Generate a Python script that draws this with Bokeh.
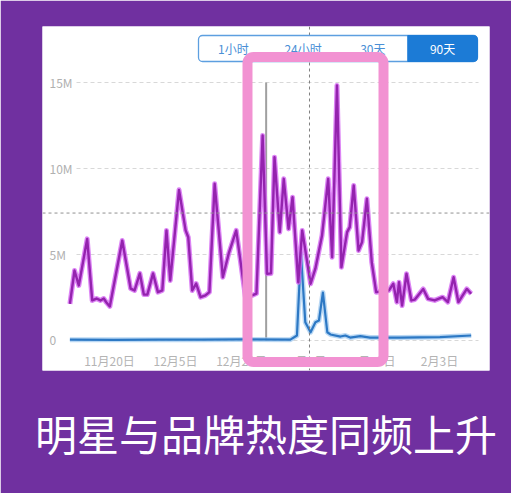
from bokeh.plotting import figure
from bokeh.models import Range1d, Span, BoxAnnotation, Label, Title
from bokeh.core.properties import value
from bokeh.embed import file_html
from bokeh.resources import INLINE

# ---------------- data (days since 11月11日, values in millions) ----------------
purple_day = [0, 1.05, 2.02, 3.93, 5.07, 6.05, 6.95, 7.7, 8.3, 9.07, 11.9, 13.8, 14.7, 15.9,
              16.8, 17.6, 18.9, 20.0, 21.0, 21.95, 22.8, 24.8, 26.3, 26.9, 27.8, 28.7, 29.7,
              30.8, 31.7, 32.9, 34.75, 36.1, 37.8, 39.9, 41.4, 42.4, 43.8, 44.8, 45.7, 46.5,
              47.7, 48.6, 49.7, 50.6, 51.9, 52.8, 54.7, 55.8, 57.3, 58.7, 59.6, 60.7, 61.7,
              63.0, 63.6, 64.5, 65.6, 66.4, 67.5, 68.6, 69.6, 72.5, 73.5, 74.3, 74.8, 75.5,
              76.5, 77.6, 78.4, 80.3, 81.4, 82.9, 84.7, 85.9, 87.2, 88.3, 90.2, 91.2]
purple_val = [2.13, 4.07, 3.2, 5.91, 2.33, 2.44, 2.33, 2.44, 2.21, 1.98, 5.81, 3.02, 2.91, 3.9,
              2.67, 2.67, 3.9, 2.81, 2.91, 6.4, 3.49, 8.76, 6.4, 6.0, 2.91, 3.31, 2.52,
              2.62, 2.81, 9.11, 3.68, 5.06, 6.4, 2.5, 2.62, 2.73, 11.92, 3.88, 3.9, 10.66,
              6.3, 9.4, 6.49, 8.33, 3.39, 6.4, 3.3, 4.19, 6.1, 9.4, 4.84, 14.83, 4.26,
              6.3, 6.59, 9.01, 5.23, 5.72, 8.24, 4.55, 2.81, 2.91, 3.3, 2.23, 3.39, 2.03,
              3.88, 2.33, 2.38, 3.0, 2.42, 2.33, 2.52, 2.23, 3.68, 2.23, 3.0, 2.72]

blue_day = [0, 10, 20, 30, 40, 50.1, 51.6, 52.5, 53.5, 54.7, 55.8, 56.6, 57.5, 58.5, 59.2,
            61.5, 62.6, 63.7, 66.0, 68.2, 75.0, 84.1, 91.2]
blue_val = [0.05, 0.04, 0.05, 0.05, 0.06, 0.05, 0.29, 5.06, 1.06, 0.48, 1.06, 1.16, 2.79, 0.48,
            0.35, 0.23, 0.29, 0.17, 0.25, 0.17, 0.17, 0.2, 0.29]

y_ticks = [0, 5, 10, 15]
y_tick_labels = ["0", "5M", "10M", "15M"]
x_ticks = [9, 24, 39, 54, 69, 84]
x_tick_labels = ["11月20日", "12月5日", "12月20日", "1月4日", "1月19日", "2月3日"]

buttons = ["1小时", "24小时", "30天", "90天"]
selected_button = "90天"

marker_day = 44.6          # grey vertical marker
marker_top = 15
cross_day = 54.45          # hover crosshair
cross_val = 7.41

caption = "明星与品牌热度同频上升"

PURPLE_BG = "#7030a0"
FONT = "Noto Sans CJK SC"

# ---------------- figure ----------------
X0, X1 = -6.227, 95.36
Y0, Y1 = -1.744, 18.256
FW, FH = 447, 344

def dx(px):   # panel pixel -> day
    return X0 + (px - 42) * (X1 - X0) / FW

def dy(py):   # panel pixel -> value
    return Y1 - (py - 26) * (Y1 - Y0) / FH

p = figure(width=511, height=493, output_backend="svg", toolbar_location=None,
           x_range=Range1d(X0, X1), y_range=Range1d(Y0, Y1),
           x_axis_location=None, y_axis_location=None,
           min_border_left=42, min_border_right=22, min_border_top=26, min_border_bottom=123)
p.background_fill_color = "white"
p.border_fill_color = PURPLE_BG
p.outline_line_color = None
p.grid.visible = False

# grid lines
p.segment(x0=[dx(76)] * len(y_ticks), x1=[dx(478)] * len(y_ticks), y0=y_ticks, y1=y_ticks,
          line_color="#d8d8d8", line_width=1, line_dash="4 3")

# y tick labels
p.text(x=[dx(49)] * len(y_ticks), y=y_ticks, text=y_tick_labels, text_align="left",
       text_baseline="middle", text_color="#b0b0b0", text_font_size="12px",
       text_font=value(FONT))

# x tick labels
p.text(x=x_ticks, y=[dy(360)] * len(x_ticks), text=x_tick_labels, text_align="center",
       text_baseline="middle", text_color="#b4b4b4", text_font_size="12px",
       text_font=value(FONT))

# grey marker
p.segment(x0=[marker_day], x1=[marker_day], y0=[0], y1=[marker_top],
          line_color="#a0a0a0", line_width=2)

# series
p.line(blue_day, blue_val, line_color="#9cc8f0", line_width=5, line_alpha=0.7,
       line_join="round")
p.line(blue_day, blue_val, line_color="#2c78c4", line_width=2.2, line_join="round")
p.line(purple_day, purple_val, line_color="#d466f2", line_width=5, line_alpha=0.8,
       line_join="round")
p.line(purple_day, purple_val, line_color="#9423ae", line_width=2.4, line_join="round")

# crosshair
p.add_layout(Span(location=cross_day, dimension="height", line_color="#808080",
                  line_width=1, line_dash="3 3"))
p.add_layout(Span(location=cross_val, dimension="width", line_color="#909090",
                  line_width=1, line_dash="3 3"))

# button group
p.add_layout(BoxAnnotation(left=dx(198), right=dx(477), top=dy(35), bottom=dy(61),
                           fill_color="white", fill_alpha=1, line_color="#5d9fe0",
                           line_width=1.3, line_alpha=1, border_radius=4))
seg_w = (477 - 198) / len(buttons)
for i, b in enumerate(buttons):
    if b == selected_button:
        p.add_layout(BoxAnnotation(left=dx(198 + i * seg_w), right=dx(198 + (i + 1) * seg_w),
                                   top=dy(35), bottom=dy(61), fill_color="#1c7bd6",
                                   fill_alpha=1, line_color="#1c7bd6", line_alpha=1,
                                   border_radius=(0, 4, 4, 0)))
for i, b in enumerate(buttons):
    p.add_layout(Label(x=dx(198 + (i + 0.5) * seg_w), y=dy(48), text=b,
                       text_align="center", text_baseline="middle", text_font_size="12px",
                       text_font=FONT,
                       text_color="white" if b == selected_button else "#4a8fd6"))

# pink highlight
p.add_layout(BoxAnnotation(left=dx(247), right=dx(383), top=dy(56.5), bottom=dy(361.5),
                           fill_alpha=0, line_color="#f292d2", line_width=10, line_alpha=1,
                           border_radius=6))

# caption
p.add_layout(Title(text=caption, align="center", text_color="white", text_font_size="42px",
                   text_font=FONT, text_font_style="normal", standoff=58), "below")

open("out.html", "w").write(file_html(p, INLINE))
